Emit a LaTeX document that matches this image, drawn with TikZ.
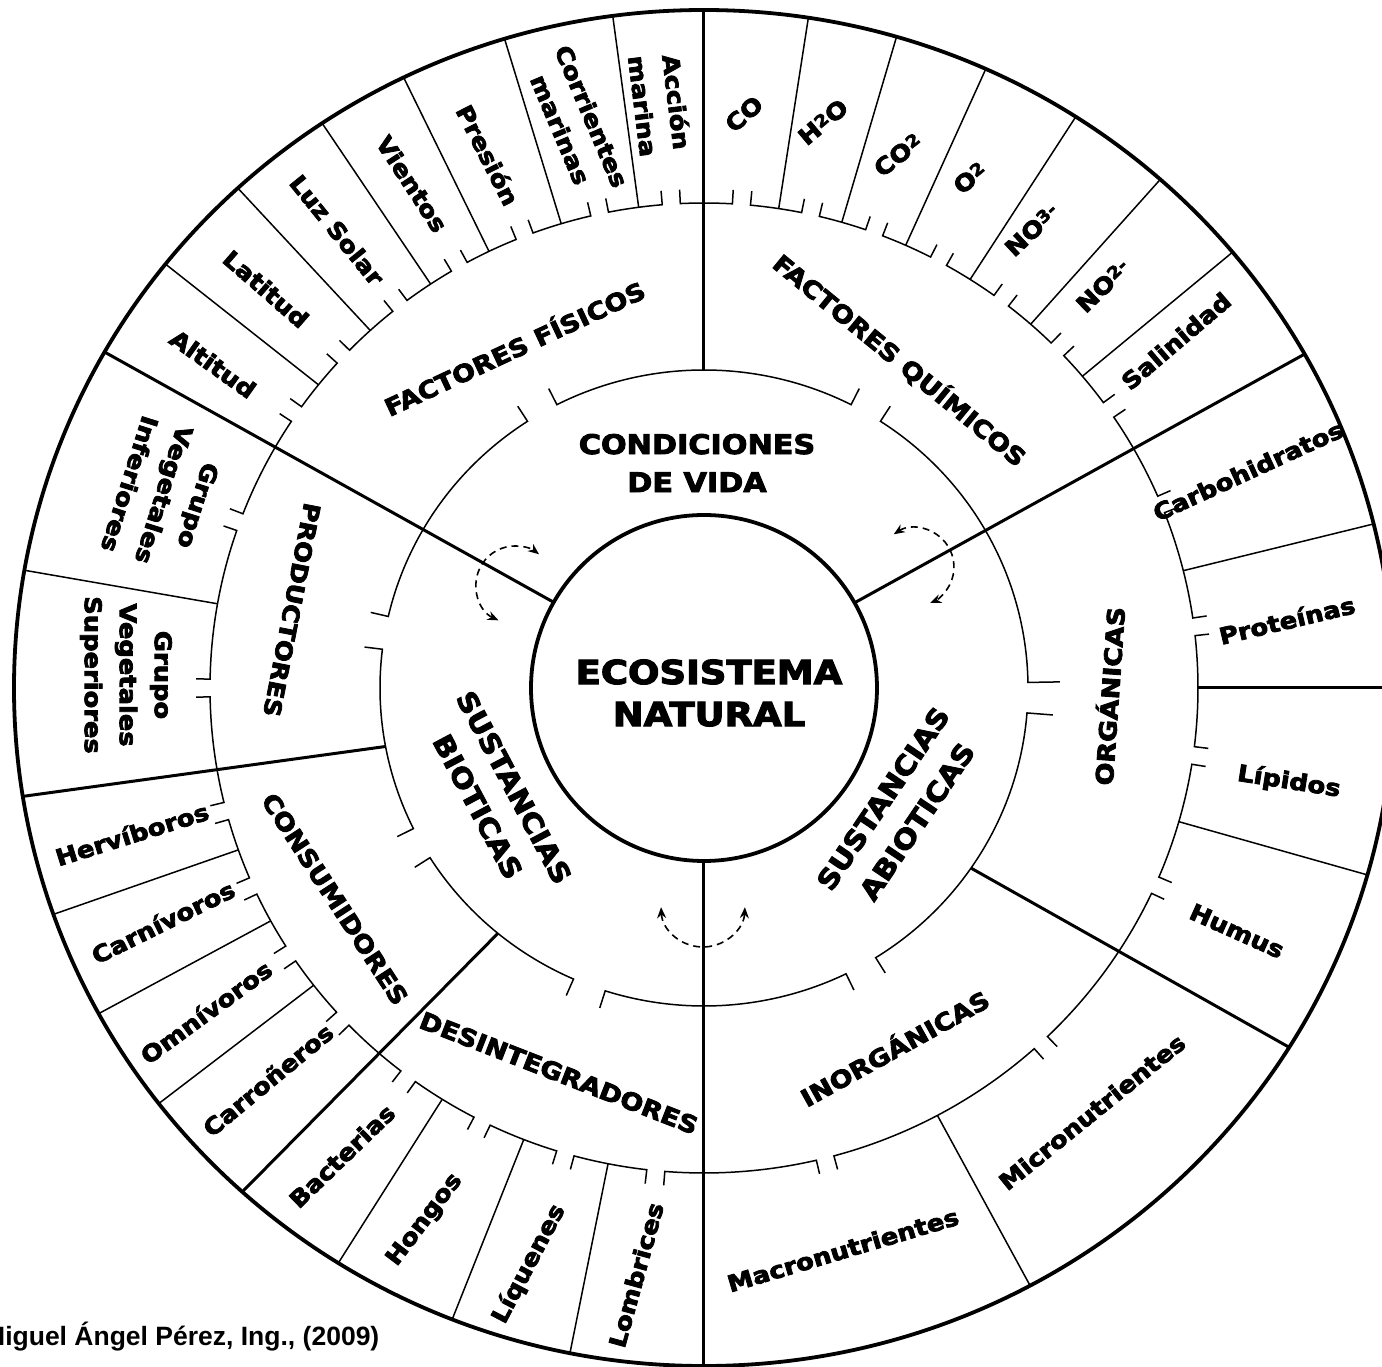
\documentclass[tikz,border=0pt]{standalone}
\usepackage{fontspec}
\setmainfont{DejaVu Sans}[BoldFeatures={FakeBold=3.2}]
\newfontfamily\creditfont{Liberation Sans}
\usepackage{graphicx}
\usetikzlibrary{arrows.meta}

% small raised index for chemical formulas
\newcommand\up[1]{\raisebox{0.38ex}{\scalebox{0.72}{#1}}}
\newcommand\fs[2]{\fontsize{#1}{#2}\selectfont}

% chain of bracket arcs on an elliptical ring:
% #1 x radius, #2 y radius, #3 half gap (deg), #4 tick length, #5 gap pairs
\newcommand\bracketchain[5]{%
  \foreach \a/\b in {#5}{%
    \pgfmathsetmacro\sa{\a+#3}%
    \pgfmathsetmacro\ea{\b-#3}%
    \draw[hair] (\sa:#1 and #2) ++(\sa:#4) -- (\sa:#1 and #2)
      arc[start angle=\sa, end angle=\ea, x radius=#1, y radius=#2]
      -- ++(\ea:#4);
  }}

\tikzset{
  hair/.style={line width=1.5pt},
  divider/.style={line width=3pt},
  rim/.style={line width=3.8pt},
  txt/.style={inner sep=0pt, align=center, xscale=1.12},
  leaf/.style={rotate=#1, txt, font=\bfseries\fs{23}{34}},
  leaf/.default=0,
  branch/.style={rotate=#1, txt, font=\bfseries\fs{24}{30}},
  branch/.default=0,
  sector/.style={rotate=#1, txt, font=\bfseries\fs{27}{38}},
  sector/.default=0,
  core/.style={txt, font=\bfseries\fs{33}{42}},
  swap/.style={line width=1.6pt, dash pattern=on 7pt off 5pt,
    {Stealth[length=11pt,width=9pt]}-{Stealth[length=11pt,width=9pt]}},
}

\begin{document}
\begin{tikzpicture}[x=1pt,y=1pt]
\useasboundingbox (-704,-679) rectangle (678,688);
\fill[white] (-704,-679) rectangle (678,688);
\clip (-704,-679) rectangle (678,688);

% outer rim and central circle
\draw[rim] (0,0) ellipse[x radius=690, y radius=678];
\draw[rim] (0,0) circle[radius=173];

% the three main sectors
\foreach \t in {29.5,150.3,270}
  \draw[divider] (\t:173) -- (\t:690 and 678);

% second level dividers, starting on the middle ring
\draw[divider] (90:324 and 318) -- (90:690 and 678);
\draw[divider] (190.6:324 and 318) -- (189.2:690 and 678);
\draw[divider] (230.5:324 and 318) -- (228:690 and 678);
\draw[divider] (325.5:324 and 318) -- (328:690 and 678);
\draw[divider] (0:494 and 485) -- (0:690 and 678);

% leaf separators
\foreach \t in {14,344,298.2,40,48.6,57.4,65.9,73.8,81.3,97.6,106.8,115.8,
                123.6,132.5,141.3,170,199.5,208.7,217.8,238,248.6,258.8}
  \draw[hair] (\t:494 and 485) -- (\t:690 and 678);

% bracket rings
\bracketchain{494}{485}{1.05}{14}{7.25/22.25,22.25/35,35/44.3,44.3/53,53/61.65,
  61.65/69.85,69.85/77.55,77.55/85.65,85.65/93.8,93.8/102.2,102.2/111.3,
  111.3/119.7,119.7/128,128/136.9,136.9/145.6,145.6/160,160/180,180/194.7,
  194.7/204.1,204.1/213.2,213.2/223,223/233.2,233.2/243.3,243.3/253.7,
  253.7/264.4,264.4/284.2,284.2/313,313/336,336/352,352/367.25}
\bracketchain{324}{318}{3}{18}{60/120,120/170,170/209.25,209.25/249.25,
  249.25/299}
% the two brackets meeting on the right of the middle ring carry longer ticks
\draw[hair] (302:324 and 318) ++(302:18) -- (302:324 and 318)
  arc[start angle=302, end angle=355.5, x radius=324, y radius=318] -- ++(355.5:26);
\draw[hair] (361:324 and 318) ++(361:32) -- (361:324 and 318)
  arc[start angle=361, end angle=417, x radius=324, y radius=318] -- ++(417:18);

% exchange arrows across the main dividers
\draw[swap] (-189,103) ++(245:39) arc[start angle=245, end angle=52, radius=39];
\draw[swap] (211,121) ++(123:39) arc[start angle=123, end angle=-67, radius=39];
\draw[swap] (-1,-217) ++(183:42) arc[start angle=183, end angle=357, radius=42];

% labels, placed in image pixel coordinates
\begin{scope}[shift={(-704,688)}, y=-1pt]
  \node[core] (eco) at (709,693) {ECOSISTEMA\\NATURAL};

  \node[sector] (cond) at (697,463) {CONDICIONES\\DE VIDA};
  \node[sector=-62, font=\bfseries\fs{27}{41}] (bio) at (496,797) {SUSTANCIAS\\BIOTICAS};
  \node[sector=56, font=\bfseries\fs{27}{41}] (abio) at (900,810) {SUSTANCIAS\\ABIOTICAS};

  \node[branch=25] (fis) at (514,347) {FACTORES FÍSICOS};
  \node[branch=-39.3] (qui) at (900,360) {FACTORES QUÍMICOS};
  \node[branch=-101, font=\bfseries\fs{23}{30}] (prod) at (292,610) {PRODUCTORES};
  \node[branch=-57] (cons) at (335,899) {CONSUMIDORES};
  \node[branch=-21.3] (des) at (559,1073) {DESINTEGRADORES};
  \node[branch=29] (inorg) at (894,1047) {INORGÁNICAS};
  \node[branch=86] (org) at (1108,696) {ORGÁNICAS};

  \node[leaf=-83] (l1) at (660,104) {Acción\\marina};
  \node[leaf=-67] (l2) at (576,123) {Corrientes\\marinas};
  \node[leaf=-63] (l3) at (488,155) {Presión};
  \node[leaf=-57] (l4) at (412,184) {Vientos};
  \node[leaf=-51] (l5) at (337,230) {Luz Solar};
  \node[leaf=-41] (l6) at (266,289) {Latitud};
  \node[leaf=-35.5] (l7) at (213,364) {Altitud};

  \node[leaf=41] (q1) at (744,114) {CO};
  \node[leaf=40] (q2) at (823,122) {H\up{2}O};
  \node[leaf=38] (q3) at (898,155) {CO\up{2}};
  \node[leaf=39] (q4) at (970,178) {O\up{2}};
  \node[leaf=43] (q5) at (1032,230) {NO\up{3-}};
  \node[leaf=44] (q6) at (1103,286) {NO\up{2-}};
  \node[leaf=40.5] (q7) at (1176,341) {Salinidad};

  \node[leaf=24.7] (o1) at (1248,471) {Carbohidratos};
  \node[leaf=13.4] (o2) at (1287,620) {Proteínas};
  \node[leaf=-8.9] (o3) at (1289,782) {Lípidos};
  \node[leaf=-24.1] (o4) at (1237,931) {Humus};

  \node[leaf=39] (i1) at (1092,1112) {Micronutrientes};
  \node[leaf=16.6] (i2) at (843,1250) {Macronutrientes};

  \node[leaf=74.6] (d1) at (636,1275) {Lombrices};
  \node[leaf=62.3] (d2) at (529,1264) {Líquenes};
  \node[leaf=52.8] (d3) at (425,1220) {Hongos};
  \node[leaf=44] (d4) at (342,1156) {Bacterias};

  \node[leaf=39.7] (c1) at (268,1080) {Carroñeros};
  \node[leaf=36.2] (c2) at (206,1012) {Omnívoros};
  \node[leaf=26.3] (c3) at (163,922) {Carnívoros};
  \node[leaf=17.4] (c4) at (132,834) {Hervíboros};

  \node[leaf=-90, font=\bfseries\fs{23}{35}] (p1) at (126,675) {Grupo\\Vegetales\\Superiores};
  \node[leaf=-107.5, font=\bfseries\fs{23}{36}] (p2) at (164,495) {Grupo\\Vegetales\\Inferiores};

  \node[anchor=base west, inner sep=0pt, font=\creditfont\bfseries\fs{26.5}{30}]
    (credit) at (-17,1345) {Miguel Ángel Pérez, Ing., (2009)};
\end{scope}
\end{tikzpicture}
\end{document}
